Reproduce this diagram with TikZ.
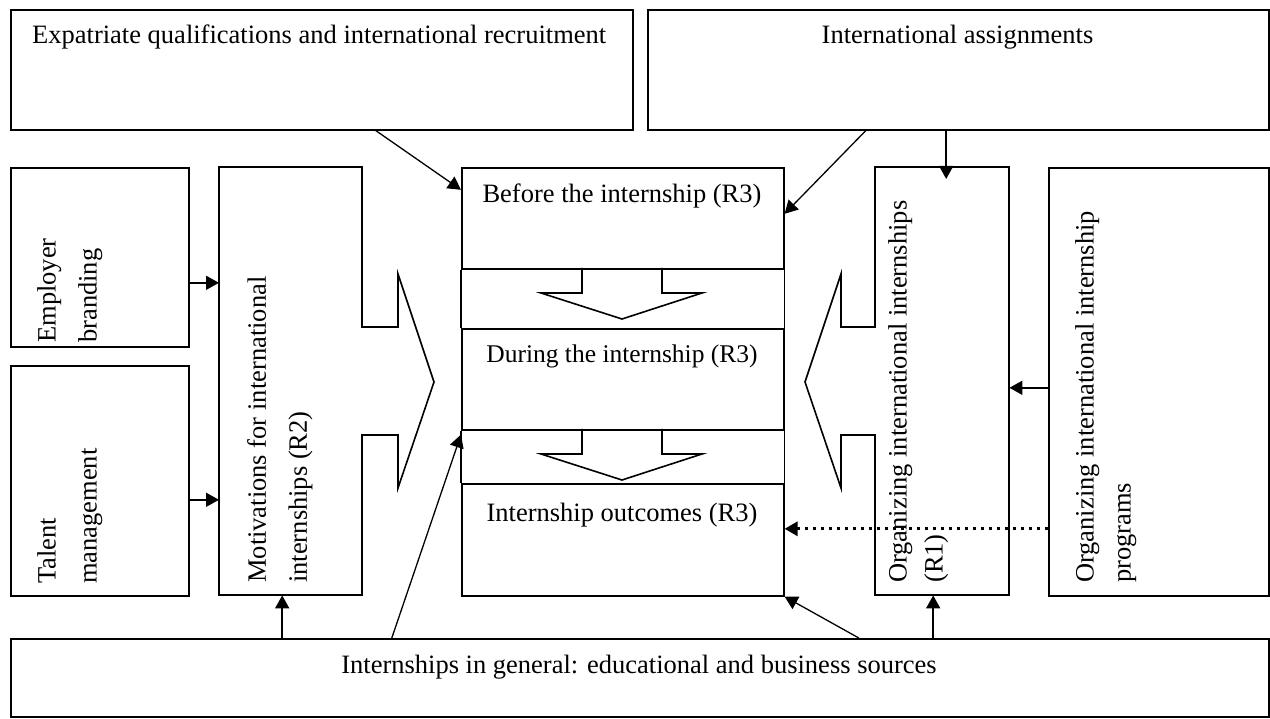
\documentclass[tikz,border=0pt]{standalone}
\usepackage{fontspec}
\setmainfont{Liberation Serif}
\usetikzlibrary{arrows.meta}
\begin{document}
\begin{tikzpicture}[x=1pt,y=-1pt,
  box/.style={draw, line width=1.6pt, inner sep=0pt, anchor=north west},
  ghost/.style={inner sep=0pt, anchor=north west},
  shape line/.style={line width=1.6pt, line join=miter},
  arr/.style={line width=1.6pt, -{Triangle[length=13pt,width=14pt]}},
  thinarr/.style={line width=1.3pt, -{Triangle[length=13pt,width=14pt]}},
  dotline/.style={line width=3pt, dash pattern=on 3.5pt off 4.5pt},
  lbl/.style={inner sep=0pt, font=\fontsize{26.5}{31}\selectfont},
  vlbl/.style={inner sep=0pt, rotate=90, anchor=north west, align=left, font=\fontsize{26.5}{41}\selectfont},
]
\useasboundingbox (0,0) rectangle (1270,719);

% ---------- boxes ----------
\node[box, minimum width=622pt, minimum height=120pt] (tl) at (10,9) {};
\node[box, minimum width=621pt, minimum height=120pt] (tr) at (647,9) {};
\node[box, minimum width=178pt, minimum height=179pt] (eb) at (10,167) {};
\node[box, minimum width=178pt, minimum height=230pt] (tm) at (10,365) {};

% motivations box with arrow
\node[ghost, minimum width=143pt, minimum height=428pt] (mot) at (219,167) {};
\draw[shape line] (219,167) -- (362,167) -- (362,327) -- (398,327) -- (398,274)
  -- (434,382) -- (398,488) -- (398,435) -- (362,435) -- (362,595) -- (219,595) -- cycle;

% center column
\node[box, minimum width=322pt, minimum height=101pt] (before) at (461,167) {};
\node[box, minimum width=322pt, minimum height=101pt] (during) at (461,328) {};
\node[box, minimum width=322pt, minimum height=112pt] (outc) at (461,483) {};
\draw[line width=1.6pt] (before.south west) -- (during.north west);
\draw[line width=1.6pt] (before.south east) -- (during.north east);
\draw[line width=1.6pt] (during.south west) -- (outc.north west);
\draw[line width=1.6pt] (during.south east) -- (outc.north east);
\draw[shape line] (582,268) -- (582,293) -- (541,293) -- (622,319) -- (702,293) -- (662,293) -- (662,268);
\draw[shape line] (582,429) -- (582,454) -- (541,454) -- (622,480) -- (702,454) -- (662,454) -- (662,429);

% organizing box with arrow
\node[ghost, minimum width=134pt, minimum height=428pt] (org) at (875,167) {};
\draw[shape line] (875,167) -- (1009,167) -- (1009,595) -- (875,595) -- (875,435)
  -- (841,435) -- (841,488) -- (805,382) -- (841,274) -- (841,327) -- (875,327) -- cycle;

\node[box, minimum width=220pt, minimum height=428pt] (fr) at (1048,167) {};
\node[box, minimum width=1258pt, minimum height=78pt] (gen) at (10,638) {};

% ---------- texts ----------
\node[lbl, anchor=base west] (tlt) at (32,44) {Expatriate qualifications and international recruitment};
\node[lbl, anchor=base] (trt) at (957.5,44) {International assignments};
\node[lbl, anchor=base] (bt) at (622,203) {Before the internship (R3)};
\node[lbl, anchor=base, font=\fontsize{25.5}{30}\selectfont] (dt) at (622,363) {During the internship (R3)};
\node[lbl, anchor=base] (ot) at (622,521) {Internship outcomes (R3)};
\node[lbl, anchor=base] (gt) at (639,673) {Internships in general: educational and business sources};

\node[vlbl] (ebt) at (37,343) {Employer\\branding};
\node[vlbl] (tmt) at (37,584) {Talent\\management};
\node[vlbl] (mott) at (247,583) {Motivations for international\\internships (R2)};
\node[vlbl, font=\fontsize{26.5}{36}\selectfont] (orgt) at (888,583) {Organizing international internships\\(R1)};
\node[vlbl, font=\fontsize{26.5}{37}\selectfont] (frt) at (1075,583) {Organizing international internship\\programs};

% ---------- connectors ----------
\coordinate (e1) at ([yshift=-25.5pt]eb.east);
\draw[arr] (e1) -- (e1 -| mot.west);
\coordinate (e2) at ([yshift=-19pt]tm.east);
\draw[arr] (e2) -- (e2 -| mot.west);

\coordinate (m1) at ([xshift=-8.5pt]mot.south);
\draw[arr] (m1 |- gen.north) -- (m1);
\draw[thinarr] ([xshift=-248pt]gen.north) -- ([yshift=-4pt]during.south west);
\draw[thinarr] ([xshift=219pt]gen.north) -- (outc.south east);
\coordinate (m2) at ([xshift=-9pt]org.south);
\draw[arr] (m2 |- gen.north) -- (m2);

\draw[thinarr] ([xshift=54pt]tl.south) -- ([yshift=28.5pt]before.west);
\draw[thinarr] ([xshift=-92.5pt]tr.south) -- ([yshift=4.5pt]before.east);
\coordinate (m3) at ([xshift=4pt,yshift=-12pt]org.north);
\draw[arr] (m3 |- tr.south) -- (m3);

\coordinate (m4) at ([yshift=-6pt]fr.west);
\draw[arr] (m4) -- (m4 -| org.east);
\coordinate (m5) at ([yshift=-147pt]fr.west);
\draw[arr, dotline] (m5) -- (m5 -| outc.east);
\end{tikzpicture}
\end{document}
